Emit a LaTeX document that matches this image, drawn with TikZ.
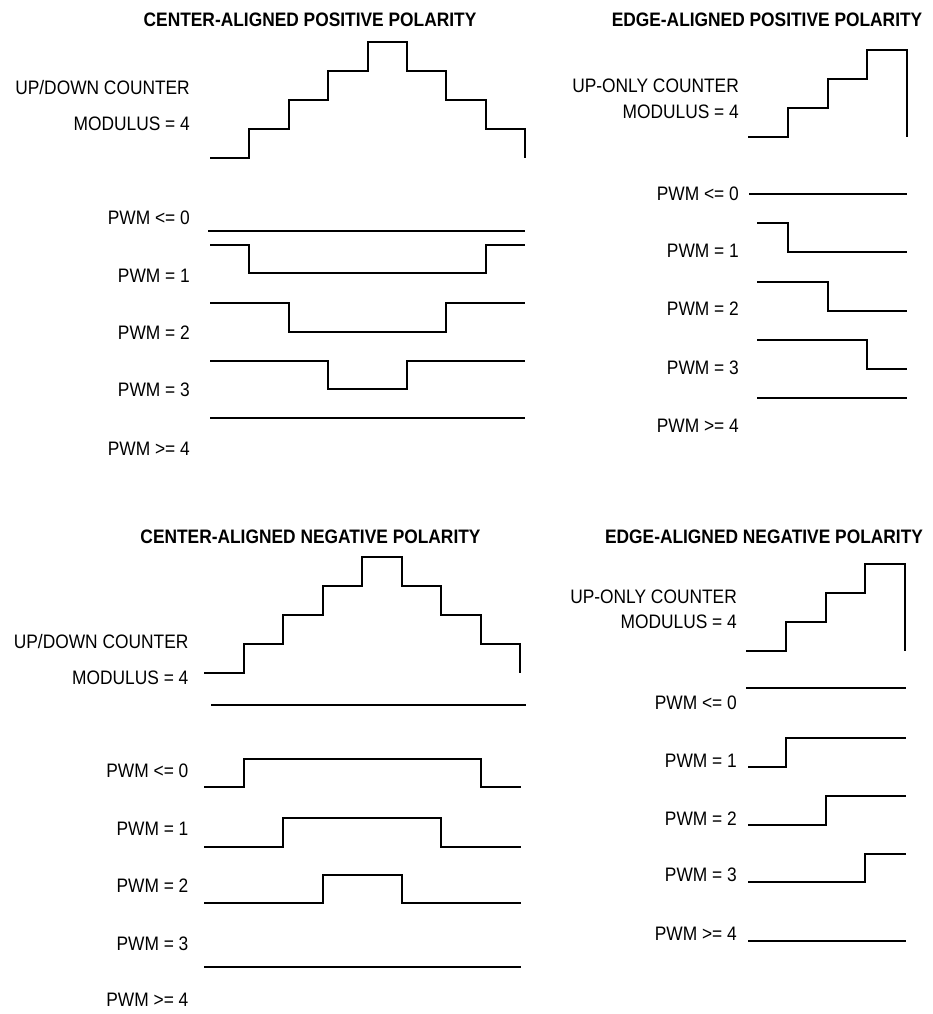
\documentclass[tikz,border=0pt]{standalone}
\usepackage{fontspec}
\setmainfont{Liberation Sans}[FakeStretch=0.89]
\begin{document}
\begin{tikzpicture}[x=1pt,y=-1pt,
  wave/.style={line width=2pt,line join=miter},
  lbl/.style={anchor=base east,inner sep=0pt,font=\fontsize{19.5}{23}\selectfont},
  ttl/.style={anchor=base,inner sep=0pt,font=\fontsize{19.5}{23}\selectfont\bfseries}]
\useasboundingbox (0,0) rectangle (933,1014);

% ---------------- TOP LEFT ----------------
\node[ttl] (tlT) at (310,27) {CENTER-ALIGNED POSITIVE POLARITY};
\node[lbl] (tlC) at (190,95) {UP/DOWN COUNTER};
\node[lbl] (tlM) at (190,131) {MODULUS = 4};
\node[lbl] (tl0) at (190,224) {PWM <= 0};
\node[lbl] (tl1) at (190,282) {PWM = 1};
\node[lbl] (tl2) at (190,339) {PWM = 2};
\node[lbl] (tl3) at (190,396) {PWM = 3};
\node[lbl] (tl4) at (190,455) {PWM >= 4};
\draw[wave] (210,158) -- (249.4,158) -- (249.4,129) -- (288.8,129) -- (288.8,100)
  -- (328.1,100) -- (328.1,71) -- (367.5,71) -- (367.5,42) -- (406.9,42) -- (406.9,71)
  -- (446.3,71) -- (446.3,100) -- (485.6,100) -- (485.6,129) -- (525,129) -- (525,158);
\draw[wave] (208,231) -- (525,231);
\draw[wave] (210,245) -- (249.4,245) -- (249.4,273) -- (485.6,273) -- (485.6,245) -- (525,245);
\draw[wave] (210,303) -- (288.8,303) -- (288.8,332) -- (446.3,332) -- (446.3,303) -- (525,303);
\draw[wave] (210,361) -- (328.1,361) -- (328.1,389) -- (406.9,389) -- (406.9,361) -- (525,361);
\draw[wave] (210,418) -- (525,418);

% ---------------- TOP RIGHT ----------------
\node[ttl] (trT) at (767,27) {EDGE-ALIGNED POSITIVE POLARITY};
\node[lbl] (trC) at (739,93) {UP-ONLY COUNTER};
\node[lbl] (trM) at (739,118) {MODULUS = 4};
\node[lbl] (tr0) at (739,200) {PWM <= 0};
\node[lbl] (tr1) at (739,257) {PWM = 1};
\node[lbl] (tr2) at (739,315) {PWM = 2};
\node[lbl] (tr3) at (739,374) {PWM = 3};
\node[lbl] (tr4) at (739,432) {PWM >= 4};
\draw[wave] (748,137) -- (787.75,137) -- (787.75,108) -- (827.5,108) -- (827.5,79)
  -- (867.25,79) -- (867.25,50) -- (907,50) -- (907,137);
\draw[wave] (749,194) -- (907,194);
\draw[wave] (757,223) -- (787.75,223) -- (787.75,252) -- (907,252);
\draw[wave] (757,282) -- (827.5,282) -- (827.5,311) -- (907,311);
\draw[wave] (757,340) -- (867.25,340) -- (867.25,369) -- (907,369);
\draw[wave] (757,398) -- (907,398);

% ---------------- BOTTOM LEFT ----------------
\node[ttl] (blT) at (310.5,543.4) {CENTER-ALIGNED NEGATIVE POLARITY};
\node[lbl] (blC) at (188.6,648) {UP/DOWN COUNTER};
\node[lbl] (blM) at (188.6,684.6) {MODULUS = 4};
\node[lbl] (bl0) at (188.6,777) {PWM <= 0};
\node[lbl] (bl1) at (188.6,835) {PWM = 1};
\node[lbl] (bl2) at (188.6,892) {PWM = 2};
\node[lbl] (bl3) at (188.6,950) {PWM = 3};
\node[lbl] (bl4) at (188.6,1006) {PWM >= 4};
\draw[wave] (204,672.5) -- (243.5,672.5) -- (243.5,643.5) -- (283,643.5) -- (283,614.5)
  -- (322.5,614.5) -- (322.5,585.5) -- (362,585.5) -- (362,556.5) -- (401.5,556.5) -- (401.5,585.5)
  -- (441,585.5) -- (441,614.5) -- (480.5,614.5) -- (480.5,643.5) -- (520,643.5) -- (520,672.5);
\draw[wave] (211,705) -- (526,705);
\draw[wave] (204,787) -- (243.5,787) -- (243.5,759) -- (480.5,759) -- (480.5,787) -- (521,787);
\draw[wave] (204,846.5) -- (283,846.5) -- (283,817.5) -- (441,817.5) -- (441,846.5) -- (521,846.5);
\draw[wave] (204,903) -- (322.5,903) -- (322.5,875) -- (401.5,875) -- (401.5,903) -- (521,903);
\draw[wave] (204,966.5) -- (521,966.5);

% ---------------- BOTTOM RIGHT ----------------
\node[ttl] (brT) at (764,543.6) {EDGE-ALIGNED NEGATIVE POLARITY};
\node[lbl] (brC) at (737,603.6) {UP-ONLY COUNTER};
\node[lbl] (brM) at (737,628.6) {MODULUS = 4};
\node[lbl] (br0) at (737,709.6) {PWM <= 0};
\node[lbl] (br1) at (737,767) {PWM = 1};
\node[lbl] (br2) at (737,825) {PWM = 2};
\node[lbl] (br3) at (737,881.5) {PWM = 3};
\node[lbl] (br4) at (737,940.5) {PWM >= 4};
\draw[wave] (746,650.5) -- (785.75,650.5) -- (785.75,621.5) -- (825.5,621.5) -- (825.5,592.5)
  -- (865.25,592.5) -- (865.25,563.5) -- (905,563.5) -- (905,650.5);
\draw[wave] (746,687.5) -- (905.5,687.5);
\draw[wave] (748,767) -- (785.75,767) -- (785.75,738) -- (905.5,738);
\draw[wave] (748,824.5) -- (825.5,824.5) -- (825.5,795.5) -- (905.5,795.5);
\draw[wave] (748,882) -- (865.25,882) -- (865.25,853.5) -- (905.5,853.5);
\draw[wave] (748,940.5) -- (905.5,940.5);
\end{tikzpicture}
\end{document}
